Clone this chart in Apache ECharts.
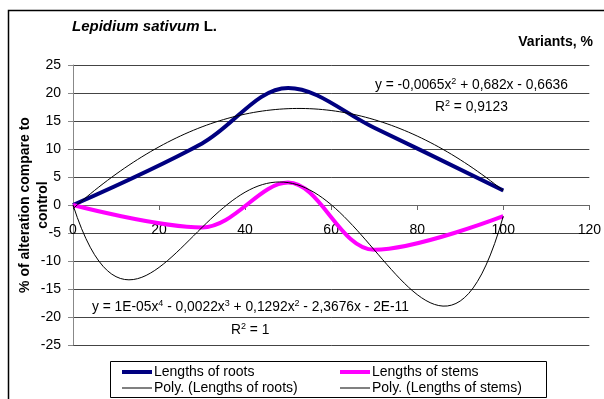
<!DOCTYPE html>
<html>
<head>
<meta charset="utf-8">
<script src="https://cdn.jsdelivr.net/npm/echarts@6/dist/echarts.min.js"></script>
<style>
  html, body { margin: 0; padding: 0; background: #fff; }
  #chart { width: 604px; height: 399px; }
</style>
</head>
<body>
<div id="chart"></div>
<script>
// Variants (x, %) and the measured alteration of each organ, % compared to control
const variants = [0, 30, 50, 70, 100];
const rootsValues = [0, 11.0, 20.9, 13.8, 2.6];
const stemsValues = [0, -4, 4, -8, -2];

// Axis ticks
const xTickValues = [0, 20, 40, 60, 80, 100, 120];
const yTickValues = [-25, -20, -15, -10, -5, 0, 5, 10, 15, 20, 25];

// Series names
const rootsName = 'Lengths of roots';
const stemsName = 'Lengths of stems';
const rootsTrendName = 'Poly. (Lengths of roots)';
const stemsTrendName = 'Poly. (Lengths of stems)';

// Trendline orders
const rootsTrendDegree = 2;
const stemsTrendDegree = 4;

const FONT = 'Liberation Sans, Arial, sans-serif';
const GRID = { left: 73, right: 11, top: 65, bottom: 54 };
const CHART_H = 399;

// Least-squares polynomial fit (x scaled to keep the normal equations well conditioned)
function polyFit(xs, ys, degree) {
  const scale = 100;
  const n = degree + 1;
  const A = Array.from({ length: n }, () => new Array(n + 1).fill(0));
  xs.forEach((x, i) => {
    const t = x / scale;
    for (let r = 0; r < n; r++) {
      for (let c = 0; c < n; c++) A[r][c] += Math.pow(t, r + c);
      A[r][n] += ys[i] * Math.pow(t, r);
    }
  });
  for (let col = 0; col < n; col++) {
    let piv = col;
    for (let r = col + 1; r < n; r++) if (Math.abs(A[r][col]) > Math.abs(A[piv][col])) piv = r;
    [A[col], A[piv]] = [A[piv], A[col]];
    for (let r = 0; r < n; r++) {
      if (r === col) continue;
      const f = A[r][col] / A[col][col];
      for (let c = col; c <= n; c++) A[r][c] -= f * A[col][c];
    }
  }
  const coef = A.map((row, i) => row[n] / row[i]);
  return x => coef.reduce((sum, k, i) => sum + k * Math.pow(x / scale, i), 0);
}

function trendPoints(xs, ys, degree) {
  const f = polyFit(xs, ys, degree);
  const lo = Math.min(...xs), hi = Math.max(...xs);
  const pts = [];
  for (let x = lo; x <= hi; x += 1) pts.push([x, f(x)]);
  return pts;
}

const pairs = (xs, ys) => xs.map((x, i) => [x, ys[i]]);

// The horizontal axis crosses the vertical one at zero
const yMin = yTickValues[0], yMax = yTickValues[yTickValues.length - 1];
const plotH = CHART_H - GRID.top - GRID.bottom;
const xAxisOffset = -plotH * (0 - yMin) / (yMax - yMin);

const chart = echarts.init(document.getElementById('chart'), null, { renderer: 'canvas' });

const eqStyle = {
  fontFamily: FONT, fontSize: 13.8, fontWeight: 'normal', color: '#000', lineHeight: 17,
  rich: { s: { fontFamily: FONT, fontSize: 9, verticalAlign: 'top', lineHeight: 17, color: '#000' } }
};

const thickIcon = 'path://M0,0 H30 V4 H0 Z';
const thinIcon = 'path://M0,0 H30 V1 H0 Z';
const legendText = { fontFamily: FONT, fontSize: 14, color: '#000', padding: [0, 0, 0, -3] };

chart.setOption({
  animation: false,
  backgroundColor: '#fff',
  graphic: [
    { type: 'rect', z: -10, shape: { x: 8.5, y: 10.5, width: 620, height: 420 },
      style: { fill: '#fff', stroke: '#000', lineWidth: 1.5 } },
    { type: 'rect', z: 0, shape: { x: 110.5, y: 361.5, width: 436, height: 36 },
      style: { fill: '#fff', stroke: '#000', lineWidth: 1 } },
    { type: 'text', x: 34, y: 205, rotation: Math.PI / 2,
      style: { text: '% of alteration compare to\ncontrol', textAlign: 'center', textVerticalAlign: 'middle',
               font: 'bold 14px ' + FONT, lineHeight: 18, fill: '#000' } }
  ],
  title: [
    { text: '{i|Lepidium sativum} L.', left: 72, top: 19, padding: 0,
      textStyle: { fontFamily: FONT, fontSize: 15, fontWeight: 'bold', color: '#000',
        rich: { i: { fontFamily: FONT, fontSize: 15, fontWeight: 'bold', fontStyle: 'italic', color: '#000' } } } },
    { text: 'Variants, %', right: 11, top: 35, padding: 0,
      textStyle: { fontFamily: FONT, fontSize: 14, fontWeight: 'bold', color: '#000' } },
    { text: 'y = -0,0065x{s|2} + 0,682x - 0,6636', left: 375, top: 77, padding: 0, textStyle: eqStyle },
    { text: 'R{s|2} = 0,9123', left: 435, top: 99, padding: 0, textStyle: eqStyle },
    { text: 'y = 1E-05x{s|4} - 0,0022x{s|3} + 0,1292x{s|2} - 2,3676x - 2E-11', left: 92, top: 299, padding: 0, textStyle: eqStyle },
    { text: 'R{s|2} = 1', left: 231, top: 322, padding: 0, textStyle: eqStyle }
  ],
  legend: [
    { data: [
        { name: rootsName, icon: thickIcon, itemStyle: { color: '#000080', borderWidth: 0 } },
        { name: rootsTrendName, icon: thinIcon, itemStyle: { color: '#000', borderWidth: 0 } }
      ],
      orient: 'vertical', left: 122, top: 365, padding: 0,
      itemWidth: 30, itemHeight: 10, itemGap: 2, textStyle: legendText },
    { data: [
        { name: stemsName, icon: thickIcon, itemStyle: { color: '#ff00ff', borderWidth: 0 } },
        { name: stemsTrendName, icon: thinIcon, itemStyle: { color: '#000', borderWidth: 0 } }
      ],
      orient: 'vertical', left: 340, top: 365, padding: 0,
      itemWidth: 30, itemHeight: 10, itemGap: 2, textStyle: legendText }
  ],
  grid: Object.assign({ containLabel: false }, GRID),
  xAxis: {
    type: 'value', min: xTickValues[0], max: xTickValues[xTickValues.length - 1],
    interval: xTickValues[1] - xTickValues[0],
    position: 'bottom', offset: xAxisOffset,
    axisLine: { onZero: false, lineStyle: { color: '#666', width: 1 } },
    axisTick: { show: true, inside: false, length: 5, lineStyle: { color: '#666' } },
    axisLabel: { fontFamily: FONT, fontSize: 14, color: '#000', margin: 18 },
    splitLine: { show: false }
  },
  yAxis: {
    type: 'value', min: yMin, max: yMax,
    interval: yTickValues[1] - yTickValues[0],
    axisLine: { show: true, lineStyle: { color: '#888', width: 1 } },
    axisTick: { show: true, length: 5, lineStyle: { color: '#888' } },
    axisLabel: { fontFamily: FONT, fontSize: 14, color: '#000', margin: 12 },
    splitLine: { show: true, lineStyle: { color: '#444', width: 1 } }
  },
  series: [
    { name: rootsName, type: 'line', data: pairs(variants, rootsValues), smooth: 0.35,
      showSymbol: false, symbol: 'none', lineStyle: { color: '#000080', width: 4 }, itemStyle: { color: '#000080' }, z: 2 },
    { name: stemsName, type: 'line', data: pairs(variants, stemsValues), smooth: 0.35,
      showSymbol: false, symbol: 'none', lineStyle: { color: '#ff00ff', width: 4 }, itemStyle: { color: '#ff00ff' }, z: 2 },
    { name: rootsTrendName, type: 'line', data: trendPoints(variants, rootsValues, rootsTrendDegree),
      showSymbol: false, symbol: 'none', lineStyle: { color: '#000', width: 1 }, itemStyle: { color: '#000' }, z: 3 },
    { name: stemsTrendName, type: 'line', data: trendPoints(variants, stemsValues, stemsTrendDegree),
      showSymbol: false, symbol: 'none', lineStyle: { color: '#000', width: 1 }, itemStyle: { color: '#000' }, z: 3 }
  ]
});
</script>
</body>
</html>
